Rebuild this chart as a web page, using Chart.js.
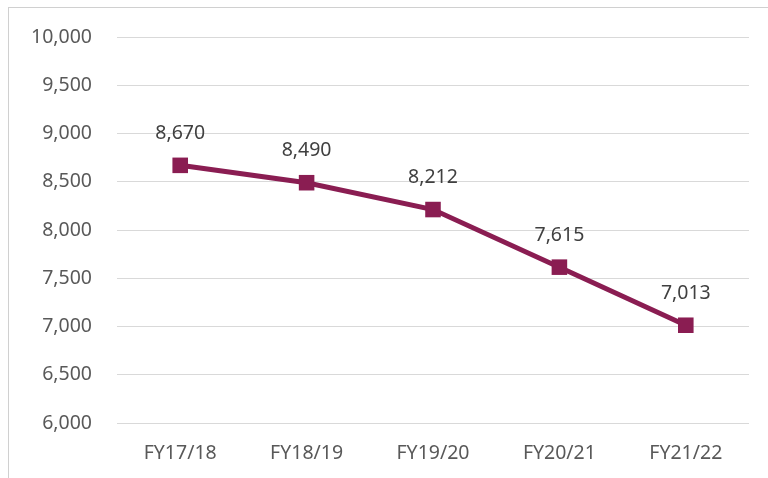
<!DOCTYPE html>
<html><head><meta charset="utf-8">
<script src="https://cdn.jsdelivr.net/npm/chart.js@4/dist/chart.umd.min.js"></script>
<style>
html,body{margin:0;padding:0;background:#fff;}
#wrap{position:relative;width:768px;height:478px;}
#frame{position:absolute;left:8px;top:7px;width:800px;height:500px;border-left:1px solid #d0d0d0;border-top:1px solid #d0d0d0;}
canvas{position:absolute;left:0;top:0;}
</style></head><body>
<div id="wrap"><div id="frame"></div><canvas id="c" width="768" height="478"></canvas></div>
<script>
const categories = ["FY17/18","FY18/19","FY19/20","FY20/21","FY21/22"];
const values = [8670, 8490, 8212, 7615, 7013];
const yMin = 6000, yMax = 10000, yStep = 500;
const lineColor = "#8a1d52";
const fontFamily = "'Source Sans Pro','Noto Sans',sans-serif";

const labelPlugin = {
  id: 'pointLabels',
  afterDatasetsDraw(chart) {
    const ctx = chart.ctx;
    const meta = chart.getDatasetMeta(0);
    ctx.save();
    ctx.font = "19.5px " + fontFamily;
    ctx.fillStyle = "#404040";
    ctx.textAlign = "center";
    ctx.textBaseline = "middle";
    meta.data.forEach((pt, i) => {
      ctx.fillText(values[i].toLocaleString('en-US'), pt.x, pt.y - 32);
    });
    ctx.restore();
  }
};

new Chart(document.getElementById('c'), {
  type: 'line',
  data: {
    labels: categories,
    datasets: [{
      data: values,
      borderColor: lineColor,
      backgroundColor: lineColor,
      borderWidth: 5,
      pointStyle: 'rect',
      pointRadius: 11,
      pointHoverRadius: 11,
      pointBorderWidth: 0,
      tension: 0
    }]
  },
  options: {
    responsive: false,
    animation: false,
    layout: { padding: { top: 37, right: 19, left: 0, bottom: 0 } },
    plugins: { legend: { display: false }, tooltip: { enabled: false } },
    scales: {
      x: {
        offset: true,
        grid: { display: false, drawTicks: false },
        border: { display: false },
        ticks: { color: "#595959", font: { size: 19.5, family: fontFamily }, padding: 19 },
        afterFit(s) { s.height = 55; }
      },
      y: {
        min: yMin, max: yMax,
        ticks: { stepSize: yStep, color: "#595959", font: { size: 19.5, family: fontFamily }, padding: 25,
          callback: v => v.toLocaleString('en-US') },
        grid: { color: "#d9d9d9", lineWidth: 1, drawTicks: false },
        border: { display: false },
        afterFit(s) { s.width = 117; }
      }
    }
  },
  plugins: [labelPlugin]
});
</script>
</body></html>
